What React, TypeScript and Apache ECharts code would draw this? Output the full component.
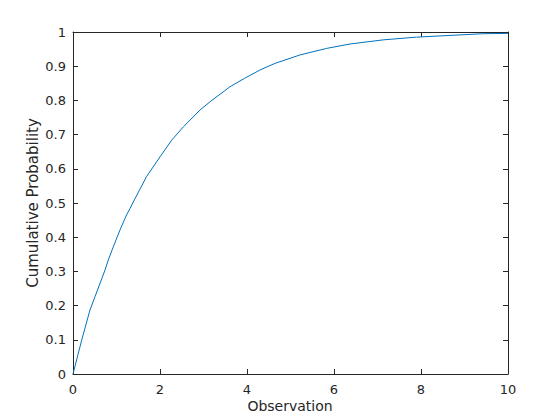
import React, { useEffect, useRef } from "react";
import * as echarts from "echarts";

const obsX = [0, 0.008, 0.2, 0.39, 0.506, 0.736, 0.81, 0.927, 1.08, 1.23, 1.31, 1.41, 1.69, 2.0, 2.27, 2.54, 2.92, 3.15, 3.61, 3.95, 4.3, 4.64, 5.22, 5.83, 6.37, 7.13, 7.9, 8.67, 9.43, 10];
const cumProb = [0, 0.004, 0.099, 0.187, 0.226, 0.304, 0.333, 0.372, 0.421, 0.465, 0.484, 0.509, 0.577, 0.635, 0.684, 0.723, 0.772, 0.796, 0.84, 0.865, 0.889, 0.908, 0.933, 0.952, 0.965, 0.977, 0.985, 0.99, 0.995, 0.996];
const xTicks = [0, 2, 4, 6, 8, 10];
const yTicks = [0, 0.1, 0.2, 0.3, 0.4, 0.5, 0.6, 0.7, 0.8, 0.9, 1];

export default function App() {
  const ref = useRef<HTMLDivElement>(null);
  useEffect(() => {
    const chart = echarts.init(ref.current!, null, { renderer: "svg" });
    const font = "DejaVu Sans";
    const axisLine = { show: true, onZero: false, lineStyle: { color: "#262626", width: 1 } };
    const tick = { show: true, inside: true, length: 5, lineStyle: { color: "#262626", width: 1 } };
    chart.setOption({
      animation: false,
      backgroundColor: "#ffffff",
      grid: { left: 73, right: 52, top: 32, bottom: 46, containLabel: false },
      xAxis: [
        {
          type: "value",
          position: "bottom",
          min: xTicks[0],
          max: xTicks[xTicks.length - 1],
          interval: 2,
          axisLine,
          axisTick: tick,
          splitLine: { show: false },
          axisLabel: { color: "#262626", fontSize: 13, fontFamily: font, margin: 9 },
        },
        {
          type: "value",
          position: "top",
          min: xTicks[0],
          max: xTicks[xTicks.length - 1],
          interval: 2,
          axisLine,
          axisTick: tick,
          splitLine: { show: false },
          axisLabel: { show: false },
        },
      ],
      yAxis: [
        {
          type: "value",
          position: "left",
          min: yTicks[0],
          max: yTicks[yTicks.length - 1],
          interval: 0.1,
          axisLine,
          axisTick: tick,
          splitLine: { show: false },
          axisLabel: {
            color: "#262626",
            fontSize: 13,
            fontFamily: font,
            margin: 7,
            formatter: (v: number) => String(Math.round(v * 10) / 10),
          },
        },
        {
          type: "value",
          position: "right",
          min: yTicks[0],
          max: yTicks[yTicks.length - 1],
          interval: 0.1,
          axisLine,
          axisTick: tick,
          splitLine: { show: false },
          axisLabel: { show: false },
        },
      ],
      graphic: [
        {
          type: "text",
          x: 290,
          y: 406,
          style: { text: "Observation", fill: "#262626", font: `14px "${font}"`, align: "center", verticalAlign: "middle" },
        },
        {
          type: "text",
          x: 33,
          y: 203,
          rotation: Math.PI / 2,
          style: { text: "Cumulative Probability", fill: "#262626", font: `15px "${font}"`, align: "center", verticalAlign: "middle" },
        },
      ],
      series: [
        {
          type: "line",
          xAxisIndex: 0,
          yAxisIndex: 0,
          data: obsX.map((x, i) => [x, cumProb[i]]),
          showSymbol: false,
          symbol: "none",
          lineStyle: { color: "#0072BD", width: 1 },
          clip: true,
        },
      ],
    });
    return () => chart.dispose();
  }, []);
  return <div ref={ref} style={{ width: 560, height: 420, position: "absolute", left: 0, top: 0 }} />;
}
